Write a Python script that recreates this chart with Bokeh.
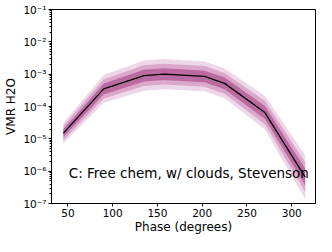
import numpy as np
from bokeh.plotting import figure
from bokeh.models import Label, CustomJSTickFormatter, FixedTicker, Range1d
from bokeh.embed import file_html
from bokeh.resources import INLINE

phase = [45, 90, 135, 157.5, 202.5, 225, 270, 315]
median = [1.5e-5, 3.5e-4, 9.0e-4, 1.0e-3, 8.5e-4, 5.2e-4, 6.5e-5, 6.5e-7]
# half-widths of the bands in decades (outer, middle, inner)
hw_outer = [0.32, 0.43, 0.47, 0.47, 0.46, 0.46, 0.52, 0.68]
hw_middle = [0.22, 0.30, 0.32, 0.32, 0.32, 0.32, 0.36, 0.46]
hw_inner = [0.12, 0.17, 0.18, 0.18, 0.18, 0.18, 0.20, 0.26]
xticks = [50, 100, 150, 200, 250, 300]
label_text = "C: Free chem, w/ clouds, Stevenson"

FONT = "DejaVu Sans"

p = figure(width=316, height=236, output_backend="svg", toolbar_location=None,
           y_axis_type="log", x_range=Range1d(31.7, 326.5), y_range=Range1d(1e-7, 1e-1),
           min_border_left=51, min_border_right=1, min_border_top=9, min_border_bottom=0)
p.grid.visible = False
p.outline_line_color = "black"
p.outline_line_width = 1
p.background_fill_color = "white"
p.border_fill_color = "white"

med = np.array(median)
lm = np.log10(med)
for hw, col in [(hw_outer, "#eed7e8"), (hw_middle, "#dba7cb"), (hw_inner, "#bb6aa2")]:
    h = np.array(hw)
    p.varea(x=phase, y1=10 ** (lm - h), y2=10 ** (lm + h), fill_color=col)
p.line(phase, median, line_color="black", line_width=1.3)

p.xaxis.ticker = FixedTicker(ticks=xticks)
p.xaxis.axis_label = "Phase (degrees)"
p.yaxis.axis_label = "VMR H2O"
p.yaxis.formatter = CustomJSTickFormatter(code="""
const sup = {'-':'\u207b','0':'\u2070','1':'\u00b9','2':'\u00b2','3':'\u00b3','4':'\u2074','5':'\u2075','6':'\u2076','7':'\u2077','8':'\u2078','9':'\u2079'};
const e = Math.round(Math.log10(tick)).toString();
let s = '';
for (const c of e) s += sup[c];
return '10' + s;
""")
for ax in [p.xaxis[0], p.yaxis[0]]:
    ax.major_label_text_font = FONT
    ax.major_label_text_font_size = "10.5px"
    ax.major_label_text_color = "black"
    ax.axis_label_text_font = FONT
    ax.axis_label_text_font_size = "12px"
    ax.axis_label_text_font_style = "normal"
    ax.axis_label_text_color = "black"
    ax.axis_line_color = "black"
    ax.major_tick_line_color = "black"
    ax.minor_tick_line_color = "black"
    ax.major_tick_out = 3
    ax.major_tick_in = 0
    ax.minor_tick_out = 2
    ax.minor_tick_in = 0
    ax.major_label_standoff = 2
    ax.axis_label_standoff = 2
p.xaxis.minor_tick_line_color = None
p.xaxis.axis_label_standoff = 0

p.add_layout(Label(x=51, y=10 ** -6.05, text=label_text, text_font=FONT,
                   text_font_size="13.5px", text_baseline="middle", text_color="black"))

open("out.html", "w").write(file_html(p, INLINE))
